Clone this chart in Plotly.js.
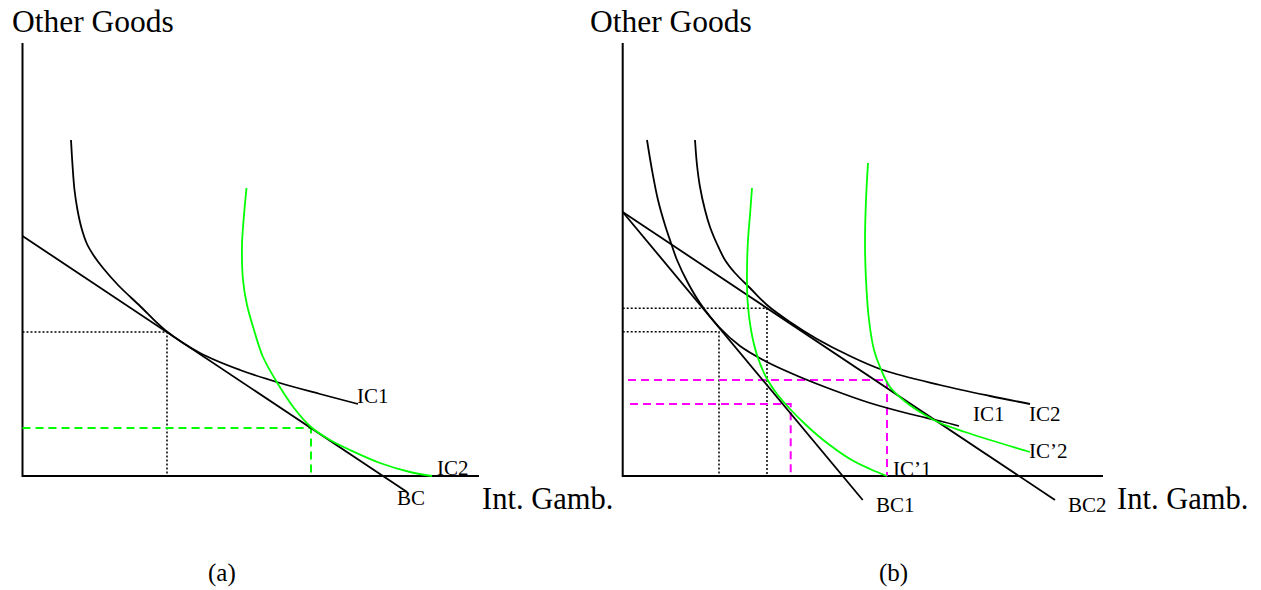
<!DOCTYPE html>
<html>
<head>
<meta charset="utf-8">
<script src="https://cdn.plot.ly/plotly-3.0.1.min.js"></script>
<style>html,body{margin:0;padding:0;background:#fff;} #chart{width:1261px;height:590px;}</style>
</head>
<body>
<div id="chart"></div>
<script>
// ---------- Panel (a) values (units relative to the panel origin) ----------
const aAxisX = [0, 0, 456.5];
const aAxisY = [433, 0, 0];
const aBCx = [0, 384.5];
const aBCy = [240, -16];
const aIC1x = [48.5, 50, 52, 55, 59, 64.5, 71.5, 80.5, 95.5, 117.5, 142.5, 177.5, 217.5, 257.5, 297.5, 335.5];
const aIC1y = [336, 311, 286, 266, 248, 232, 220, 208, 191, 170, 146, 123, 106, 93, 82, 72];
const aIC2x = [224, 221.5, 219.5, 220.5, 224.5, 231.5, 240.5, 255.5, 271.5, 288.5, 307.5, 327.5, 357.5, 387.5, 409.5];
const aIC2y = [288, 261, 231, 196, 171, 146, 119, 92, 68, 49, 36, 26, 13, 4, 0];
const aDotX = [0, 144.5, 144.5];
const aDotY = [144, 144, 0];
const aDashX = [0, 288.5, 288.5];
const aDashY = [48, 48, 0];

// ---------- Panel (b) values ----------
const bAxisX = [0, 0, 480.3];
const bAxisY = [433, 0, 0];
const bBC1x = [0, 240];
const bBC1y = [264, -24];
const bBC2x = [0, 432.3];
const bBC2y = [264, -24];
const bIC1x = [24.3, 29.3, 35.3, 42.3, 48.3, 54.3, 65.3, 77.3, 96.3, 117.3, 144.3, 177.3, 210.3, 247.3, 287.3, 317.3, 336.3];
const bIC1y = [336, 306, 276, 251, 233, 216, 193, 173, 149, 130, 114, 99, 86, 73, 62, 55, 50];
const bIC2x = [72.3, 74.3, 77.3, 82.3, 87.3, 94.3, 102.3, 112.3, 127.3, 144.3, 167.3, 194.3, 227.3, 260.3, 317.3, 367.3, 407.3];
const bIC2y = [336, 311, 289, 266, 249, 232, 216, 203, 188, 171, 154, 137, 120, 106, 91, 80, 72];
const bICp1x = [129.3, 127.3, 125.3, 124.3, 124.8, 128.3, 134.3, 143.3, 154.3, 167.3, 182.3, 199.3, 227.3, 247.3, 264.3];
const bICp1y = [288, 261, 236, 206, 176, 146, 121, 99, 82, 67, 52, 37, 17, 7, 0];
const bICp2x = [245.3, 243.3, 242.3, 243.3, 246.3, 251.3, 257.3, 267.3, 284.3, 302.3, 317.3, 342.3, 367.3, 407.3];
const bICp2y = [313, 276, 236, 196, 156, 126, 109, 89, 73, 61, 53, 44, 36, 24];
const bDot1X = [0, 144.3, 144.3];
const bDot1Y = [167.7, 167.7, 0];
const bDot2X = [0, 96.3, 96.3];
const bDot2Y = [144.3, 144.3, 0];
const bMag1X = [5.3, 264.3, 264.3];
const bMag1Y = [96, 96, 0];
const bMag2X = [7.3, 168, 168];
const bMag2Y = [72, 72, 0];

const BLACK = '#000000', GREEN = '#00ff00', MAGENTA = '#ff00ff';

function tr(x, y, color, width, dash, panel, spline) {
  return {
    x: x, y: y, type: 'scatter', mode: 'lines',
    xaxis: panel === 'b' ? 'x2' : 'x', yaxis: panel === 'b' ? 'y2' : 'y',
    line: {color: color, width: width, dash: dash || 'solid', shape: spline ? 'spline' : 'linear', smoothing: 1},
    hoverinfo: 'skip', showlegend: false
  };
}

const traces = [
  tr(aAxisX, aAxisY, BLACK, 2, 'solid', 'a'),
  tr(aDotX, aDotY, BLACK, 1.5, '2px,2px', 'a'),
  tr(aDashX, aDashY, GREEN, 2, '8px,5px', 'a'),
  tr(aBCx, aBCy, BLACK, 1.8, 'solid', 'a'),
  tr(aIC1x, aIC1y, BLACK, 1.8, 'solid', 'a', true),
  tr(aIC2x, aIC2y, GREEN, 1.8, 'solid', 'a', true),

  tr(bAxisX, bAxisY, BLACK, 2, 'solid', 'b'),
  tr(bDot1X, bDot1Y, BLACK, 1.5, '2px,2px', 'b'),
  tr(bDot2X, bDot2Y, BLACK, 1.5, '2px,2px', 'b'),
  tr(bMag1X, bMag1Y, MAGENTA, 2, '8px,5px', 'b'),
  tr(bMag2X, bMag2Y, MAGENTA, 2, '8px,5px', 'b'),
  tr(bBC1x, bBC1y, BLACK, 1.8, 'solid', 'b'),
  tr(bBC2x, bBC2y, BLACK, 1.8, 'solid', 'b'),
  tr(bIC1x, bIC1y, BLACK, 1.8, 'solid', 'b', true),
  tr(bIC2x, bIC2y, BLACK, 1.8, 'solid', 'b', true),
  tr(bICp1x, bICp1y, GREEN, 1.8, 'solid', 'b', true),
  tr(bICp2x, bICp2y, GREEN, 1.8, 'solid', 'b', true)
];

const FONT = 'Liberation Serif, Times New Roman, serif';
function ann(text, x, y, panel, size, xanchor, yanchor) {
  return {
    text: text, x: x, y: y, xref: panel === 'b' ? 'x2' : 'x', yref: panel === 'b' ? 'y2' : 'y',
    showarrow: false, xanchor: xanchor || 'left', yanchor: yanchor || 'middle', borderpad: 0,
    font: {family: FONT, size: size, color: '#000'}
  };
}

const annotations = [
  ann('Other Goods', -12, 455, 'a', 31.5),
  ann('IC1', 333.5, 80, 'a', 21),
  ann('IC2', 413.5, 8, 'a', 21),
  ann('BC', 373.5, -22, 'a', 21),
  ann('Int. Gamb.', 458.5, -23, 'a', 30.5),
  ann('(a)', 199.5, -112, 'a', 25, 'center', 'bottom'),

  ann('Other Goods', -34, 455, 'b', 31.5),
  ann('IC1', 349.3, 62, 'b', 21),
  ann('IC2', 405.3, 62, 'b', 21),
  ann('IC\u20192', 405.3, 25, 'b', 21),
  ann('IC\u20191', 269.3, 7, 'b', 21),
  ann('BC1', 252.3, -29, 'b', 21),
  ann('BC2', 444.3, -29, 'b', 21),
  ann('Int. Gamb.', 493.3, -23, 'b', 30.5),
  ann('(b)', 270.3, -112, 'b', 25, 'center', 'bottom')
];

const layout = {
  width: 1261, height: 590,
  margin: {l: 0, r: 0, t: 0, b: 0, pad: 0},
  paper_bgcolor: '#ffffff', plot_bgcolor: 'rgba(0,0,0,0)',
  showlegend: false,
  xaxis: {domain: [0, 1], range: [-22.5, 1238.5], visible: false, fixedrange: true, anchor: 'y'},
  yaxis: {domain: [0, 1], range: [-114, 476], visible: false, fixedrange: true, anchor: 'x'},
  xaxis2: {domain: [0, 1], range: [-622.7, 638.3], visible: false, fixedrange: true, anchor: 'y2'},
  yaxis2: {domain: [0, 1], range: [-114, 476], visible: false, fixedrange: true, anchor: 'x2'},
  annotations: annotations
};

Plotly.newPlot('chart', traces, layout, {staticPlot: true, displayModeBar: false});
</script>
</body>
</html>
